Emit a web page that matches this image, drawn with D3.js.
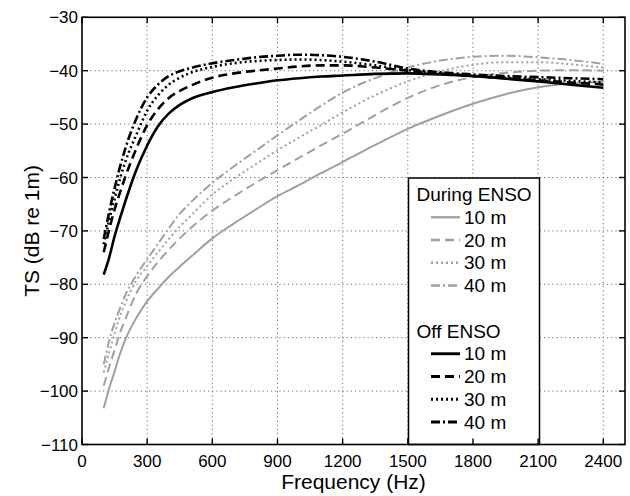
<!DOCTYPE html>
<html><head><meta charset="utf-8">
<script src="https://cdn.jsdelivr.net/npm/d3@7/dist/d3.min.js"></script>
<style>
html,body{margin:0;padding:0;background:#fff;}
text{font-family:"Liberation Sans",Arial,Helvetica,sans-serif;fill:#000;}
</style></head>
<body><svg id="chart" width="630" height="496"></svg>
<script>
// ---- data ----
const freqs = [100,125,150,175,200,250,300,350,400,450,500,600,700,800,900,1000,1100,1200,1350,1500,1650,1800,1950,2100,2250,2400];
// During ENSO (gray)
const during10 = [-103.2,-99.5,-96.3,-93.0,-90.3,-86.3,-83.2,-80.8,-78.6,-76.7,-74.9,-71.4,-68.6,-66.0,-63.5,-61.4,-59.2,-57.1,-53.9,-50.9,-48.4,-46.2,-44.4,-43.1,-42.4,-42.1];
const during20 = [-99.0,-95.5,-92.3,-89.1,-86.5,-81.7,-78.5,-75.8,-73.5,-71.4,-69.5,-66.2,-63.5,-61.0,-58.6,-56.3,-54.0,-51.8,-48.3,-45.1,-42.7,-41.2,-40.4,-40.0,-39.9,-40.0];
const during30 = [-96.5,-92.8,-89.2,-86.0,-83.4,-79.3,-76.6,-74.0,-71.5,-69.2,-67.2,-63.2,-60.2,-57.5,-54.9,-52.5,-50.2,-47.8,-44.6,-42.0,-40.1,-38.9,-38.4,-38.4,-38.8,-39.4];
const during40 = [-95.0,-90.6,-87.2,-84.5,-82.0,-78.3,-75.3,-72.4,-69.5,-66.8,-64.7,-61.0,-57.9,-55.0,-52.1,-49.3,-46.6,-44.1,-41.4,-39.4,-38.1,-37.4,-37.2,-37.5,-38.0,-38.7];
// Off ENSO (black)
const off10 = [-78.2,-75.0,-71.0,-67.6,-64.4,-58.6,-54.0,-50.4,-48.0,-46.4,-45.3,-44.0,-43.1,-42.4,-41.8,-41.4,-41.1,-40.9,-40.6,-40.5,-40.7,-41.0,-41.5,-42.0,-42.6,-43.2];
const off20 = [-74.0,-69.8,-66.0,-62.8,-59.8,-54.6,-50.2,-47.2,-45.1,-43.8,-42.8,-41.3,-40.5,-40.0,-39.6,-39.2,-39.0,-39.0,-39.4,-40.0,-40.5,-41.0,-41.4,-41.8,-42.2,-42.6];
const off30 = [-72.5,-68.0,-64.0,-60.2,-57.0,-52.0,-47.5,-44.6,-42.6,-41.3,-40.4,-39.3,-38.6,-38.2,-38.0,-37.9,-38.0,-38.3,-39.0,-39.9,-40.5,-41.0,-41.3,-41.6,-41.9,-42.2];
const off40 = [-71.5,-66.5,-62.0,-58.0,-54.5,-49.0,-45.0,-42.6,-41.0,-40.1,-39.5,-38.6,-38.0,-37.5,-37.2,-37.0,-37.1,-37.4,-38.3,-39.6,-40.3,-40.7,-41.0,-41.2,-41.4,-41.6];

const xTicks = [0,300,600,900,1200,1500,1800,2100,2400];
const yTicks = [-110,-100,-90,-80,-70,-60,-50,-40,-30];
const depthLabels = ["10 m","20 m","30 m","40 m"];
const groupTitles = ["During ENSO","Off ENSO"];
const xTitle = "Frequency (Hz)";
const yTitle = "TS (dB re 1m)";

// ---- styles ----
const dashes = [null, "9,5", "2,3", "9,3,2,3"];
const grayCol = "#a0a0a0", blackCol = "#000";
const series = [
  {vals: during10, col: grayCol, w: 2, dash: dashes[0]},
  {vals: during20, col: grayCol, w: 2, dash: dashes[1]},
  {vals: during30, col: grayCol, w: 2, dash: dashes[2]},
  {vals: during40, col: grayCol, w: 2, dash: dashes[3]},
  {vals: off10, col: blackCol, w: 2.6, dash: dashes[0]},
  {vals: off20, col: blackCol, w: 2.6, dash: dashes[1]},
  {vals: off30, col: blackCol, w: 2.6, dash: dashes[2]},
  {vals: off40, col: blackCol, w: 2.6, dash: dashes[3]},
];

const L = 82, R = 625, T = 17.3, B = 444.5;
const svg = d3.select("#chart");
const x = d3.scaleLinear().domain([0,2500]).range([L,R]);
const y = d3.scaleLinear().domain([-110,-30]).range([B,T]);

// grid
const grid = svg.append("g").attr("stroke","#6a6a6a").attr("stroke-width",1).attr("stroke-dasharray","1.2,3");
grid.selectAll("line.gx").data(xTicks.filter(d=>d>0)).join("line")
  .attr("x1",d=>x(d)).attr("x2",d=>x(d)).attr("y1",T).attr("y2",B);
grid.selectAll("line.gy").data(yTicks.filter(d=>d>-110 && d<-30)).join("line")
  .attr("x1",L).attr("x2",R).attr("y1",d=>y(d)).attr("y2",d=>y(d));

// lines
const line = d3.line().x((d,i)=>x(freqs[i])).y(d=>y(d)).curve(d3.curveMonotoneX);
svg.append("g").selectAll("path").data(series).join("path")
  .attr("d",d=>line(d.vals)).attr("fill","none")
  .attr("stroke",d=>d.col).attr("stroke-width",d=>d.w)
  .attr("stroke-dasharray",d=>d.dash).attr("stroke-linejoin","round");

// legend
const lg = svg.append("g");
const lx0 = 408.5, lx1 = 539.5, ly0 = 178;
lg.append("rect").attr("x",lx0).attr("y",ly0).attr("width",lx1-lx0).attr("height",B-ly0)
  .attr("fill","#fff").attr("stroke","#000").attr("stroke-width",1.5);
const step = 22.75, base0 = 201;
groupTitles.forEach((t,g)=>{
  const b = base0 + g*6*step;
  lg.append("text").attr("x",416.5).attr("y",b).attr("font-size",19).text(t);
  depthLabels.forEach((lab,k)=>{
    const s = series[g*4+k];
    const by = b + (k+1)*step;
    lg.append("line").attr("x1",431).attr("x2",460).attr("y1",by-6.5).attr("y2",by-6.5)
      .attr("stroke",s.col).attr("stroke-width",s.w+0.3).attr("stroke-dasharray",s.dash);
    lg.append("text").attr("x",464).attr("y",by).attr("font-size",19).text(lab);
  });
});

// axes frame
svg.append("rect").attr("x",L).attr("y",T).attr("width",R-L).attr("height",B-T)
  .attr("fill","none").attr("stroke","#000").attr("stroke-width",1.6);
const tk = 6;
const ticks = svg.append("g").attr("stroke","#000").attr("stroke-width",1.4);
xTicks.forEach(d=>{
  ticks.append("line").attr("x1",x(d)).attr("x2",x(d)).attr("y1",B).attr("y2",B-tk);
  ticks.append("line").attr("x1",x(d)).attr("x2",x(d)).attr("y1",T).attr("y2",T+tk);
});
yTicks.forEach(d=>{
  ticks.append("line").attr("x1",L).attr("x2",L+tk).attr("y1",y(d)).attr("y2",y(d));
  ticks.append("line").attr("x1",R).attr("x2",R-tk).attr("y1",y(d)).attr("y2",y(d));
});
const fmt = d3.format("d");
svg.append("g").selectAll("text").data(xTicks).join("text")
  .attr("x",d=>x(d)).attr("y",467).attr("text-anchor","middle").attr("font-size",17)
  .text(d=>fmt(d));
svg.append("g").selectAll("text").data(yTicks).join("text")
  .attr("x",78).attr("y",d=>y(d)+6).attr("text-anchor","end").attr("font-size",17)
  .text(d=>fmt(d));

svg.append("text").attr("x",(L+R)/2).attr("y",489).attr("text-anchor","middle")
  .attr("font-size",21).text(xTitle);
svg.append("text").attr("transform",`translate(39,${(T+B)/2}) rotate(-90)`)
  .attr("text-anchor","middle").attr("font-size",21).text(yTitle);
</script></body></html>
